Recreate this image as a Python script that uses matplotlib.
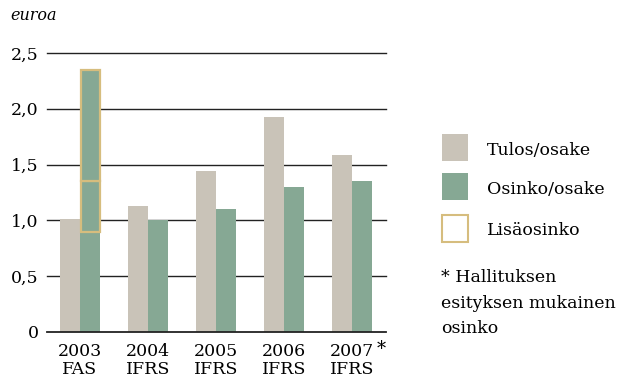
import matplotlib.pyplot as plt
from matplotlib.patches import Rectangle

# Data
years = ["2003\nFAS", "2004\nIFRS", "2005\nIFRS", "2006\nIFRS", "2007\nIFRS"]
tulos = [1.01, 1.13, 1.44, 1.93, 1.59]
osinko = [0.90, 1.00, 1.10, 1.30, 1.35]
# 2003 extra dividend parts stacked on top of the ordinary dividend
lisa_2003 = [0.45, 1.00]
yticks = [0, 0.5, 1.0, 1.5, 2.0, 2.5]
ytick_labels = ["0", "0,5", "1,0", "1,5", "2,0", "2,5"]

GREY = "#c9c3b8"
GREEN = "#86a894"
GOLD = "#d6bd7e"
FONT = "DejaVu Serif"

plt.rcParams["font.family"] = FONT

W, H = 623, 383
fig = plt.figure(figsize=(W / 100, H / 100), dpi=100)
ax = fig.add_axes([47 / W, 1 - 332 / H, (386 - 47) / W, (332 - 53) / H])

x = list(range(len(years)))
bw = 0.30

# grid lines behind bars
for t in yticks[1:]:
    ax.axhline(t, color="#222222", lw=1.0, zorder=0, clip_on=False)

ax.bar([i - bw / 2 for i in x], tulos, width=bw, color=GREY, zorder=2)
ax.bar([i + bw / 2 for i in x], osinko, width=bw, color=GREEN, zorder=2)

# Lisäosinko for 2003: green fill with gold outline segments
bottom = osinko[0]
for part in lisa_2003:
    ax.bar(x[0] + bw / 2, part, bottom=bottom, width=bw * 0.93,
           color=GREEN, edgecolor=GOLD, linewidth=1.6, zorder=3)
    bottom += part

ax.set_xlim(-0.485, 4.5)
ax.set_ylim(0, 2.5)
ax.set_yticks(yticks)
ax.set_yticklabels(ytick_labels, fontsize=12.5)
ax.set_xticks(x)
ax.set_xticklabels(years, fontsize=12.5, linespacing=1.05)
ax.tick_params(length=0, pad=8)
ax.tick_params(axis="y", pad=6)
for s in ["top", "right", "left"]:
    ax.spines[s].set_visible(False)
ax.spines["bottom"].set_linewidth(1.3)
ax.spines["bottom"].set_color("#222222")

# asterisk after 2007
ax.text(4.43, -0.07, "*", fontsize=13, ha="center", va="top",
        transform=ax.transData, clip_on=False)

fig.text(10 / W, 1 - 15 / H, "euroa", fontsize=11.5, style="italic",
         ha="left", va="center")

# legend
items = [("Tulos/osake", GREY, None, 134, 155),
         ("Osinko/osake", GREEN, None, 173, 194),
         ("Lisäosinko", "white", GOLD, 215, 235)]
for label, fc, ec, top, base in items:
    r = Rectangle((442 / W, 1 - (top + 27) / H), 26 / W, 27 / H,
                  transform=fig.transFigure, facecolor=fc,
                  edgecolor=ec if ec else fc, linewidth=1.5 if ec else 0)
    fig.add_artist(r)
    fig.text(487 / W, 1 - base / H, label, fontsize=12.5,
             ha="left", va="baseline")

note = ["* Hallituksen", "esityksen mukainen", "osinko"]
for line, base in zip(note, [282, 308, 333]):
    fig.text(441 / W, 1 - base / H, line, fontsize=12.5,
             ha="left", va="baseline")

fig.savefig("out.png", dpi=100)
